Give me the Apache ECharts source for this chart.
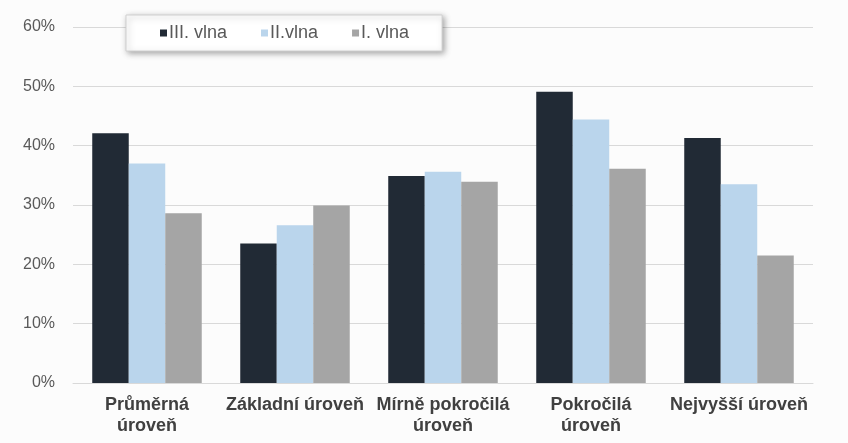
<!DOCTYPE html>
<html><head><meta charset="utf-8">
<script src="https://cdn.jsdelivr.net/npm/echarts@6/dist/echarts.min.js"></script>
<style>html,body{margin:0;padding:0;background:#fcfcfc}#c{width:848px;height:443px}</style>
</head><body><div id="c"></div>
<script>
const categories = ['Průměrná\núroveň', 'Základní úroveň', 'Mírně pokročilá\núroveň', 'Pokročilá\núroveň', 'Nejvyšší úroveň'];
const wave3 = [42.1, 23.5, 34.9, 49.1, 41.3];
const wave2 = [37.0, 26.6, 35.6, 44.4, 33.5];
const wave1 = [28.6, 29.9, 33.9, 36.1, 21.5];
const seriesNames = ['III. vlna', 'II.vlna', 'I. vlna'];
const colors = ['#212a35', '#bad5ec', '#a5a5a5'];
const FONT = '"Liberation Sans", Arial, sans-serif';

const chart = echarts.init(document.getElementById('c'), null, {renderer: 'canvas'});
const mk = (name, data, i) => ({
  name, type: 'bar', data, barGap: '0%', barCategoryGap: '26%',
  itemStyle: {color: colors[i]}
});
chart.setOption({
  backgroundColor: '#fcfcfc',
  animation: false,
  grid: {left: 73, right: 35, top: 27, bottom: 60},
  legend: {
    left: 126, top: 15,
    padding: [9, 33, 9, 34],
    itemGap: 34,
    backgroundColor: '#ffffff', borderColor: '#d0d0d0', borderWidth: 1,
    shadowBlur: 6, shadowColor: 'rgba(0,0,0,0.35)', shadowOffsetX: 2, shadowOffsetY: 2,
    icon: 'rect', itemWidth: 7, itemHeight: 7,
    textStyle: {fontFamily: FONT, fontSize: 18, color: '#595959', padding: [0, 0, 0, -3]},
    data: seriesNames
  },
  xAxis: {
    type: 'category', data: categories,
    axisLine: {lineStyle: {color: '#d9d9d9', width: 1}},
    axisTick: {show: false},
    axisLabel: {fontFamily: FONT, fontSize: 18, fontWeight: 'bold', color: '#404040', lineHeight: 21, margin: 12, interval: 0}
  },
  yAxis: {
    type: 'value', min: 0, max: 60, interval: 10,
    axisLabel: {formatter: '{value}%', fontFamily: FONT, fontSize: 16, color: '#595959', margin: 18},
    axisLine: {show: false}, axisTick: {show: false},
    splitLine: {lineStyle: {color: '#d9d9d9', width: 1}}
  },
  series: [mk(seriesNames[0], wave3, 0), mk(seriesNames[1], wave2, 1), mk(seriesNames[2], wave1, 2)]
});
</script></body></html>
